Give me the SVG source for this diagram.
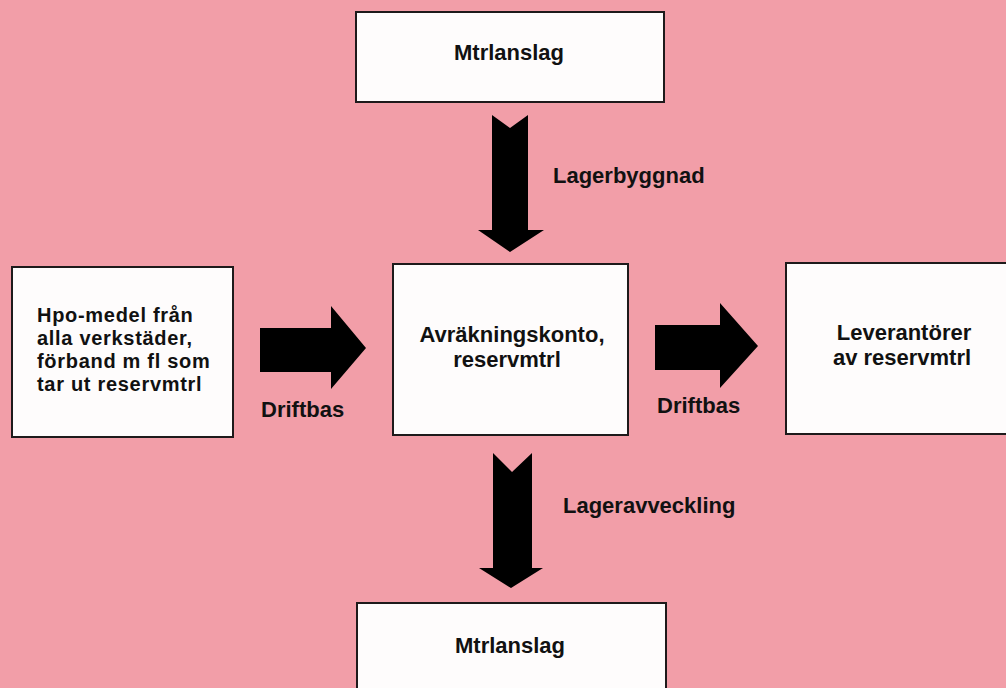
<svg xmlns="http://www.w3.org/2000/svg" width="1006" height="688" viewBox="0 0 1006 688">
  <style>
    .box { fill: #fefcfc; stroke: #1e1a1b; stroke-width: 2; }
    .lbl { font-family: "Liberation Sans", Arial, Helvetica, sans-serif; font-weight: bold; font-size: 22px; fill: #111; }
    .dense { font-size: 20px; letter-spacing: 0.7px; }
    .mid { text-anchor: middle; }
    .arrow { fill: #000; }
  </style>
  <rect x="0" y="0" width="1006" height="688" fill="#f29ea8"/>

  <g id="connectors">
    <!-- Lagerbyggnad: top estimate into account -->
    <polygon class="arrow" points="492,115 510,128 528,115 528,230 544,230 510,252 478,230 492,230"/>
    <!-- Lageravveckling: account down to estimate -->
    <polygon class="arrow" points="493,453 512,472 532,453 532,568 543,568 511,588 479,568 493,568"/>
    <!-- Driftbas: consumers into account -->
    <polygon class="arrow" points="260,328 331,328 331,306 366,348 331,389 331,372 260,372"/>
    <!-- Driftbas: account out to suppliers -->
    <polygon class="arrow" points="655,325 720,325 720,303 758,346 720,388 720,370 655,370"/>
    <text class="lbl" x="261" y="417">Driftbas</text>
    <text class="lbl" x="657" y="413">Driftbas</text>
    <text class="lbl" x="553" y="183">Lagerbyggnad</text>
    <text class="lbl" x="563" y="513">Lageravveckling</text>
  </g>

  <g id="node-top">
    <rect class="box" x="356" y="12" width="308" height="90"/>
    <text class="lbl mid" x="509" y="60">Mtrlanslag</text>
  </g>

  <g id="node-left">
    <rect class="box" x="12" y="267" width="221" height="170"/>
    <text class="lbl dense" x="37" y="322">Hpo-medel från<tspan x="37" dy="23">alla verkstäder,</tspan><tspan x="37" dy="23">förband m fl som</tspan><tspan x="37" dy="23">tar ut reservmtrl</tspan></text>
  </g>

  <g id="node-center">
    <rect class="box" x="393" y="264" width="235" height="171"/>
    <text class="lbl mid" x="512" y="342">Avräkningskonto,</text>
    <text class="lbl mid" x="507" y="367">reservmtrl</text>
  </g>

  <g id="node-right">
    <rect class="box" x="786" y="263" width="240" height="171"/>
    <text class="lbl mid" x="904" y="340">Leverantörer</text>
    <text class="lbl mid" x="902" y="365">av reservmtrl</text>
  </g>

  <g id="node-bottom">
    <rect class="box" x="357" y="603" width="309" height="100"/>
    <text class="lbl mid" x="510" y="653">Mtrlanslag</text>
  </g>
</svg>
